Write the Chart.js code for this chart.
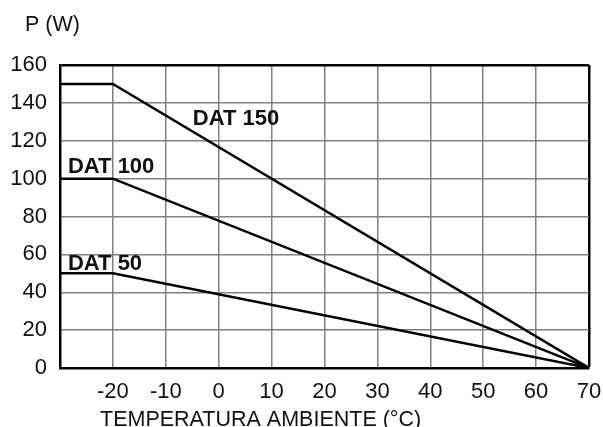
<!DOCTYPE html>
<html>
<head>
<meta charset="utf-8">
<script src="https://cdn.jsdelivr.net/npm/chart.js@4"></script>
<style>
  html, body { margin: 0; padding: 0; background: #fff; }
  #wrap { width: 603px; height: 427px; }
</style>
</head>
<body>
<div id="wrap"><canvas id="powerChart" width="603" height="427"></canvas></div>
<script>
// temperature break points (°C)
const tempPoints = [-30, -20, 70];
// power (W) for each cable type
const dat150 = [150, 150, 0];
const dat100 = [100, 100, 0];
const dat50 = [50, 50, 0];
const seriesNames = ['DAT 150', 'DAT 100', 'DAT 50'];
const xTicks = [-30, -20, -10, 0, 10, 20, 30, 40, 50, 60, 70];
const yTicks = [0, 20, 40, 60, 80, 100, 120, 140, 160];

const FONT = "'Liberation Sans', Arial, Helvetica, sans-serif";

const toPoints = vals => tempPoints.map((t, i) => ({ x: t, y: vals[i] }));

// labels drawn next to the lines, plus the axis titles
const annotations = {
    id: 'annotations',
    afterDraw(chart) {
        const { ctx, scales: { x, y } } = chart;
        ctx.save();
        ctx.fillStyle = '#111';
        ctx.textBaseline = 'alphabetic';
        ctx.textAlign = 'left';

        ctx.font = 'bold 22px ' + FONT;
        const spots = [[-4.9, 128.3], [-28.5, 103], [-28.5, 51.7]];
        seriesNames.forEach((name, i) => {
            ctx.fillText(name, x.getPixelForValue(spots[i][0]), y.getPixelForValue(spots[i][1]));
        });

        ctx.font = '21.5px ' + FONT;
        ctx.fillText('P (W)', 25, 31);
        ctx.fillText('TEMPERATURA AMBIENTE (°C)', 100, 426);
        ctx.restore();
    },
};

new Chart(document.getElementById('powerChart'), {
    type: 'line',
    data: {
        datasets: [dat150, dat100, dat50].map((vals, i) => ({
            label: seriesNames[i],
            data: toPoints(vals),
            borderColor: '#000',
            borderWidth: 2.5,
            pointRadius: 0,
            tension: 0,
            fill: false,
        })),
    },
    options: {
        responsive: false,
        animation: false,
        layout: { padding: { top: 65, right: 14, left: 0, bottom: 0 } },
        plugins: {
            legend: { display: false },
            tooltip: { enabled: false },
        },
        scales: {
            x: {
                type: 'linear',
                min: xTicks[0],
                max: xTicks[xTicks.length - 1],
                afterBuildTicks: axis => { axis.ticks = xTicks.map(v => ({ value: v })); },
                afterFit: axis => {
                    axis.height = 59;
                    axis.paddingLeft = 0;
                    axis.paddingRight = 0;
                },
                ticks: {
                    callback: v => (v === -30 ? '' : v),
                    color: '#111',
                    font: { family: FONT, size: 22 },
                    padding: 11,
                    maxRotation: 0,
                },
                grid: {
                    drawTicks: false,
                    color: ctx => (ctx.tick && ctx.tick.value === 70 ? '#000' : '#808080'),
                    lineWidth: ctx => (ctx.tick && ctx.tick.value === 70 ? 2.5 : 1.5),
                },
                border: { color: '#000', width: 2.5 },
            },
            y: {
                min: yTicks[0],
                max: yTicks[yTicks.length - 1],
                afterBuildTicks: axis => { axis.ticks = yTicks.map(v => ({ value: v })); },
                afterFit: axis => {
                    axis.width = 60;
                    axis.paddingTop = 0;
                    axis.paddingBottom = 0;
                },
                ticks: {
                    color: '#111',
                    font: { family: FONT, size: 22 },
                    padding: 13,
                },
                grid: {
                    drawTicks: false,
                    color: ctx => (ctx.tick && ctx.tick.value === 160 ? '#000' : '#808080'),
                    lineWidth: ctx => (ctx.tick && ctx.tick.value === 160 ? 2.5 : 1.5),
                },
                border: { color: '#000', width: 2.5 },
            },
        },
    },
    plugins: [annotations],
});
</script>
</body>
</html>
